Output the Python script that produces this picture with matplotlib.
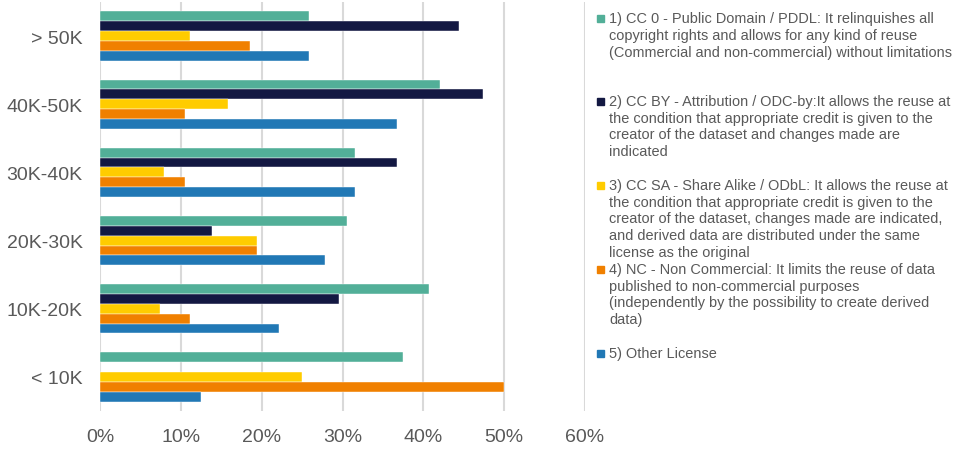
import matplotlib
matplotlib.use("Agg")
import matplotlib.pyplot as plt
import numpy as np
from matplotlib.ticker import FuncFormatter

plt.rcParams['font.family'] = ['Liberation Sans', 'DejaVu Sans']

categories = ["> 50K", "40K-50K", "30K-40K", "20K-30K", "10K-20K", "< 10K"]
series_names = [
    "1) CC 0 - Public Domain / PDDL: It relinquishes all\ncopyright rights and allows for any kind of reuse\n(Commercial and non-commercial) without limitations",
    "2) CC BY - Attribution / ODC-by:It allows the reuse at\nthe condition that appropriate credit is given to the\ncreator of the dataset and changes made are\nindicated",
    "3) CC SA - Share Alike / ODbL: It allows the reuse at\nthe condition that appropriate credit is given to the\ncreator of the dataset, changes made are indicated,\nand derived data are distributed under the same\nlicense as the original",
    "4) NC - Non Commercial: It limits the reuse of data\npublished to non-commercial purposes\n(independently by the possibility to create derived\ndata)",
    "5) Other License",
]
cc0 = [25.9, 42.1, 31.6, 30.6, 40.7, 37.5]
ccby = [44.4, 47.4, 36.8, 13.9, 29.6, 0.0]
ccsa = [11.1, 15.8, 7.9, 19.4, 7.4, 25.0]
nc = [18.5, 10.5, 10.5, 19.4, 11.1, 50.0]
other = [25.9, 36.8, 31.6, 27.8, 22.2, 12.5]
values = [cc0, ccby, ccsa, nc, other]
colors = ["#52AF98", "#131842", "#FFCC00", "#F08000", "#2178B5"]
xticks = [0, 10, 20, 30, 40, 50, 60]

W, H = 959, 452
fig = plt.figure(figsize=(W / 100, H / 100), dpi=100)
ax = fig.add_axes([100 / W, 1 - 412 / H, 485 / W, 409 / H])

n = len(categories)
h = 0.145
ypos = np.arange(n)[::-1]
for j, (vals, c) in enumerate(zip(values, colors)):
    ax.barh(ypos + (2 - j) * h, vals, height=h, color=c, edgecolor='white', linewidth=0.3, zorder=3)

ax.set_xlim(0, 60)
ax.set_ylim(-0.5, n - 0.5)
ax.set_xticks(xticks)
ax.xaxis.set_major_formatter(FuncFormatter(lambda v, p: f"{int(v)}%"))
ax.set_yticks(ypos)
ax.set_yticklabels(categories)
ax.tick_params(axis='both', length=0, labelsize=14, labelcolor='#595959')
ax.tick_params(axis='x', pad=12)
ax.tick_params(axis='y', pad=12.5)
ax.grid(axis='x', color='#D9D9D9', linewidth=1.5, zorder=0)
for s in ax.spines.values():
    s.set_visible(False)

# legend
entry_tops = [12, 95, 179, 263, 347]
for name, c, ty in zip(series_names, colors, entry_tops):
    fig.patches.append(matplotlib.patches.Rectangle((597 / W, 1 - (ty + 11) / H), 7 / W, 7 / H,
                                                    transform=fig.transFigure, color=c, figure=fig))
    fig.text(609 / W, 1 - ty / H, name, va='top', ha='left', fontsize=10.45, color='#595959', linespacing=1.25)

fig.savefig("out.png", dpi=100)
